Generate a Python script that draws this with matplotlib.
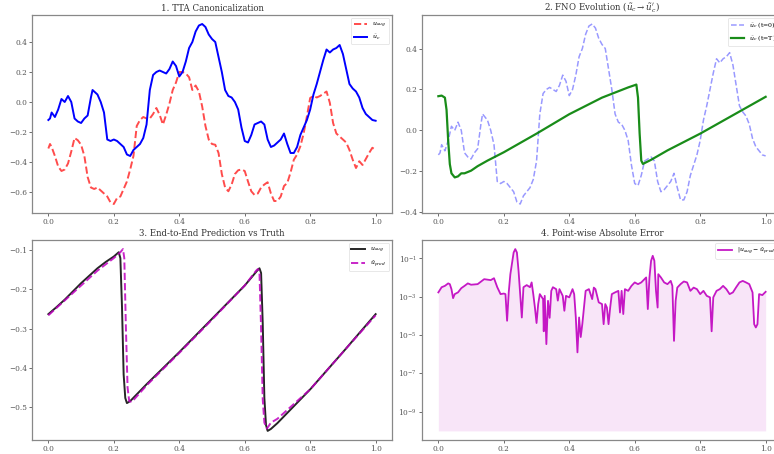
import numpy as np
import matplotlib
matplotlib.use("Agg")
import matplotlib.pyplot as plt

plt.rcParams['font.family'] = ['DejaVu Serif']
plt.rcParams['mathtext.fontset'] = 'dejavuserif'

# ---------------- data ----------------
x_uc = [0.0, 0.005, 0.01, 0.02, 0.03, 0.04, 0.05, 0.06, 0.07, 0.08, 0.09, 0.10, 0.11, 0.12,
        0.13, 0.135, 0.14, 0.15, 0.16, 0.17, 0.18, 0.19, 0.20, 0.21, 0.22, 0.23, 0.24, 0.25,
        0.26, 0.27, 0.28, 0.29, 0.30, 0.31, 0.32, 0.33, 0.34, 0.35, 0.36, 0.37, 0.38, 0.39,
        0.40, 0.41, 0.42, 0.43, 0.44, 0.45, 0.46, 0.47, 0.48, 0.49, 0.50, 0.51, 0.52, 0.53,
        0.54, 0.55, 0.56, 0.57, 0.58, 0.59, 0.60, 0.61, 0.62, 0.63, 0.64, 0.65, 0.66, 0.67,
        0.68, 0.69, 0.70, 0.71, 0.72, 0.73, 0.74, 0.75, 0.76, 0.77, 0.78, 0.79, 0.80, 0.81,
        0.82, 0.83, 0.84, 0.85, 0.86, 0.87, 0.88, 0.89, 0.90, 0.91, 0.92, 0.93, 0.94, 0.95,
        0.96, 0.97, 0.98, 0.99, 1.0]
u_c = [-0.12, -0.11, -0.07, -0.10, -0.05, 0.02, 0.00, 0.04, 0.00, -0.11, -0.13, -0.14, -0.11, -0.09,
       0.03, 0.08, 0.07, 0.05, 0.00, -0.07, -0.25, -0.26, -0.25, -0.26, -0.28, -0.30, -0.35, -0.36,
       -0.32, -0.30, -0.28, -0.24, -0.15, 0.08, 0.18, 0.20, 0.21, 0.20, 0.19, 0.22, 0.27, 0.24,
       0.17, 0.20, 0.27, 0.36, 0.40, 0.47, 0.51, 0.52, 0.50, 0.45, 0.42, 0.40, 0.30, 0.20,
       0.08, 0.04, 0.03, 0.00, -0.05, -0.17, -0.26, -0.27, -0.22, -0.15, -0.14, -0.13, -0.15, -0.25,
       -0.30, -0.29, -0.27, -0.25, -0.21, -0.28, -0.34, -0.34, -0.30, -0.22, -0.17, -0.12, -0.05, 0.05,
       0.12, 0.20, 0.28, 0.35, 0.33, 0.35, 0.36, 0.38, 0.32, 0.22, 0.12, 0.09, 0.07, 0.03,
       -0.04, -0.08, -0.10, -0.12, -0.125]

x_aug = [0.0, 0.005, 0.01, 0.02, 0.03, 0.04, 0.05, 0.06, 0.07, 0.08, 0.09, 0.10, 0.11, 0.12,
         0.13, 0.14, 0.15, 0.16, 0.17, 0.18, 0.19, 0.20, 0.21, 0.22, 0.23, 0.24, 0.25, 0.26,
         0.27, 0.28, 0.29, 0.30, 0.31, 0.32, 0.33, 0.34, 0.35, 0.36, 0.37, 0.38, 0.39, 0.40,
         0.41, 0.42, 0.43, 0.44, 0.45, 0.46, 0.47, 0.48, 0.49, 0.50, 0.51, 0.52, 0.53, 0.54,
         0.55, 0.56, 0.57, 0.58, 0.59, 0.60, 0.61, 0.62, 0.63, 0.64, 0.65, 0.66, 0.67, 0.68,
         0.69, 0.70, 0.71, 0.72, 0.73, 0.74, 0.75, 0.76, 0.77, 0.78, 0.79, 0.80, 0.81, 0.82,
         0.83, 0.84, 0.85, 0.86, 0.87, 0.88, 0.89, 0.90, 0.91, 0.92, 0.93, 0.94, 0.95, 0.96,
         0.97, 0.98, 0.99, 1.0]
u_aug = [-0.31, -0.28, -0.30, -0.36, -0.43, -0.46, -0.45, -0.41, -0.33, -0.24, -0.255, -0.285, -0.36, -0.50,
         -0.57, -0.58, -0.57, -0.59, -0.61, -0.63, -0.67, -0.68, -0.64, -0.63, -0.58, -0.53, -0.45, -0.36,
         -0.16, -0.12, -0.10, -0.11, -0.11, -0.08, -0.04, -0.085, -0.15, -0.085, -0.01, 0.08, 0.13, 0.20,
         0.20, 0.19, 0.165, 0.08, 0.11, 0.07, -0.03, -0.16, -0.25, -0.28, -0.285, -0.34, -0.48, -0.57,
         -0.595, -0.55, -0.48, -0.455, -0.45, -0.46, -0.53, -0.595, -0.62, -0.61, -0.57, -0.55, -0.535, -0.61,
         -0.66, -0.66, -0.63, -0.56, -0.54, -0.47, -0.385, -0.35, -0.295, -0.21, -0.095, 0.027, 0.04, 0.03,
         0.04, 0.055, 0.07, -0.005, -0.14, -0.21, -0.23, -0.25, -0.27, -0.32, -0.385, -0.44, -0.395, -0.42,
         -0.38, -0.34, -0.305, -0.32]

x_evo = [0.0, 0.01, 0.02, 0.025, 0.03, 0.035, 0.04, 0.05, 0.06, 0.07, 0.08, 0.10, 0.12, 0.15,
         0.20, 0.30, 0.40, 0.50, 0.58, 0.60, 0.605, 0.61, 0.615, 0.62, 0.625, 0.63, 0.65, 0.70,
         0.80, 0.90, 1.0]
u_evo = [0.167, 0.17, 0.16, 0.10, -0.05, -0.165, -0.21, -0.23, -0.225, -0.21, -0.21, -0.197, -0.175, -0.148,
         -0.107, -0.016, 0.079, 0.16, 0.21, 0.221, 0.224, 0.16, -0.016, -0.148, -0.164, -0.16, -0.144, -0.098,
         -0.016, 0.074, 0.164]

x_true = [0.0, 0.025, 0.05, 0.075, 0.10, 0.125, 0.15, 0.175, 0.20, 0.215, 0.22, 0.225, 0.23, 0.235,
          0.24, 0.25, 0.30, 0.40, 0.50, 0.60, 0.64, 0.645, 0.65, 0.655, 0.66, 0.665, 0.67, 0.68,
          0.70, 0.80, 0.90, 1.0]
u_true = [-0.263, -0.245, -0.226, -0.205, -0.184, -0.165, -0.146, -0.13, -0.116, -0.105, -0.12, -0.245, -0.417, -0.477,
          -0.49, -0.485, -0.442, -0.36, -0.275, -0.19, -0.15, -0.146, -0.158, -0.287, -0.477, -0.546, -0.561, -0.556,
          -0.541, -0.455, -0.36, -0.263]

x_pred = [0.0, 0.05, 0.10, 0.15, 0.20, 0.22, 0.228, 0.232, 0.237, 0.242, 0.247, 0.255, 0.30, 0.40,
          0.50, 0.60, 0.635, 0.64, 0.645, 0.65, 0.655, 0.66, 0.668, 0.68, 0.69, 0.70, 0.80, 0.90,
          1.0]
u_pred = [-0.266, -0.228, -0.19, -0.152, -0.12, -0.105, -0.097, -0.12, -0.30, -0.45, -0.485, -0.487, -0.445, -0.362,
          -0.277, -0.19, -0.152, -0.148, -0.155, -0.30, -0.48, -0.54, -0.555, -0.54, -0.535, -0.53, -0.455, -0.36,
          -0.266]

x_err = [0.0, 0.01, 0.02, 0.03, 0.035, 0.04, 0.045, 0.05, 0.06, 0.07, 0.08, 0.09, 0.10, 0.12,
         0.14, 0.16, 0.17, 0.18, 0.19, 0.20, 0.205, 0.21, 0.215, 0.22, 0.23, 0.235, 0.24, 0.245,
         0.25, 0.255, 0.26, 0.27, 0.28, 0.285, 0.29, 0.295, 0.30, 0.305, 0.31, 0.32, 0.322, 0.325,
         0.33, 0.335, 0.34, 0.345, 0.35, 0.36, 0.365, 0.37, 0.38, 0.385, 0.39, 0.40, 0.41, 0.415,
         0.42, 0.425, 0.43, 0.435, 0.44, 0.445, 0.45, 0.46, 0.47, 0.475, 0.48, 0.49, 0.50, 0.505,
         0.51, 0.515, 0.52, 0.525, 0.53, 0.54, 0.55, 0.555, 0.56, 0.565, 0.57, 0.58, 0.59, 0.60,
         0.61, 0.62, 0.63, 0.635, 0.64, 0.645, 0.65, 0.655, 0.66, 0.665, 0.67, 0.672, 0.68, 0.69,
         0.70, 0.71, 0.715, 0.72, 0.725, 0.73, 0.74, 0.75, 0.76, 0.77, 0.78, 0.79, 0.80, 0.81,
         0.82, 0.83, 0.835, 0.84, 0.85, 0.86, 0.87, 0.88, 0.89, 0.90, 0.91, 0.92, 0.93, 0.94,
         0.95, 0.96, 0.965, 0.97, 0.975, 0.98, 0.99, 1.0]
log_err = [-2.77, -2.5, -2.43, -2.3, -2.34, -2.6, -3.07, -2.86, -2.77, -2.55, -2.43, -2.3, -2.37, -2.34,
           -2.08, -2.13, -2.03, -2.5, -2.86, -2.83, -2.86, -4.25, -2.77, -1.82, -0.69, -0.51, -0.69, -1.64,
           -2.86, -4.08, -2.5, -2.39, -2.5, -2.25, -2.86, -3.56, -4.37, -3.38, -2.86, -3.12, -4.8, -2.95,
           -5.47, -3.21, -4.1, -2.69, -2.5, -2.6, -3.2, -2.6, -2.95, -3.73, -2.95, -3.03, -2.6, -2.86,
           -4.08, -5.9, -4.08, -5.1, -4.4, -3.56, -2.69, -2.6, -3.12, -2.52, -2.6, -3.29, -3.38, -4.43,
           -3.38, -3.56, -4.43, -3.56, -2.86, -2.77, -2.69, -3.82, -2.69, -3.9, -2.6, -2.69, -2.43, -2.25,
           -2.34, -2.25, -2.08, -1.99, -3.64, -1.99, -1.12, -0.86, -1.12, -2.69, -3.56, -1.82, -1.99, -2.25,
           -2.34, -2.17, -2.43, -5.3, -3.21, -2.52, -2.34, -2.2, -2.25, -2.69, -2.52, -2.6, -2.86, -2.69,
           -2.95, -3.03, -4.8, -3.03, -2.69, -2.6, -2.43, -2.6, -2.86, -2.77, -2.5, -2.25, -2.17, -2.25,
           -2.34, -2.77, -4.43, -4.6, -4.43, -2.86, -2.91, -2.74]
err = [10.0 ** v for v in log_err]

titles = ["1. TTA Canonicalization",
          r"2. FNO Evolution ($\tilde{u}_c \to \tilde{u}_c'$)",
          "3. End-to-End Prediction vs Truth",
          "4. Point-wise Absolute Error"]

# ---------------- figure ----------------
W, H = 774, 454
fig = plt.figure(figsize=(W / 100, H / 100), dpi=100)

def px_axes(l, r, t, b):
    return fig.add_axes([l / W, (H - b) / H, (r - l) / W, (b - t) / H])

ax1 = px_axes(32, 392, 15, 213)
ax2 = px_axes(422, 782, 15, 213)
ax3 = px_axes(32, 392, 240, 440)
ax4 = px_axes(422, 782, 240, 440)

ax1.plot(x_aug, u_aug, color='red', ls='--', lw=1.4, alpha=0.7, label=r'$u_{aug}$')
ax1.plot(x_uc, u_c, color='blue', lw=1.4, label=r'$\tilde{u}_c$')

ax2.plot(x_uc, u_c, color='blue', ls='--', lw=1.1, alpha=0.4, label=r'$\tilde{u}_c$ (t=0)')
ax2.plot(x_evo, u_evo, color='green', lw=1.6, alpha=0.9, label=r'$\tilde{u}_c$ (t=T)')

ax3.plot(x_true, u_true, color='black', lw=1.4, alpha=0.85, label=r'$u_{aug}$')
ax3.plot(x_pred, u_pred, color='m', ls='--', lw=1.4, alpha=0.85, label=r'$\hat{u}_{pred}$')

ax4.semilogy(x_err, err, color='m', lw=1.3, alpha=0.9, label=r'$|u_{aug} - \hat{u}_{pred}|$')
ax4.fill_between(x_err, err, 1e-10, color='m', alpha=0.1, lw=0)

for ax, t in zip([ax1, ax2, ax3, ax4], titles):
    ax.set_title(t, fontsize=6.2, color='#333333', pad=3)
    ax.tick_params(labelsize=5.3, colors='#555555', length=2, width=0.6, pad=1.5)
    for s in ax.spines.values():
        s.set_color('#888888')
        s.set_linewidth(0.9)
    ax.set_xticks([0.0, 0.2, 0.4, 0.6, 0.8, 1.0])
    leg = ax.legend(loc='upper right', fontsize=4.5, frameon=True, handlelength=2.2)
    leg.get_frame().set_edgecolor('#dddddd')
    leg.get_frame().set_linewidth(0.6)

fig.savefig('out.png', dpi=100)
